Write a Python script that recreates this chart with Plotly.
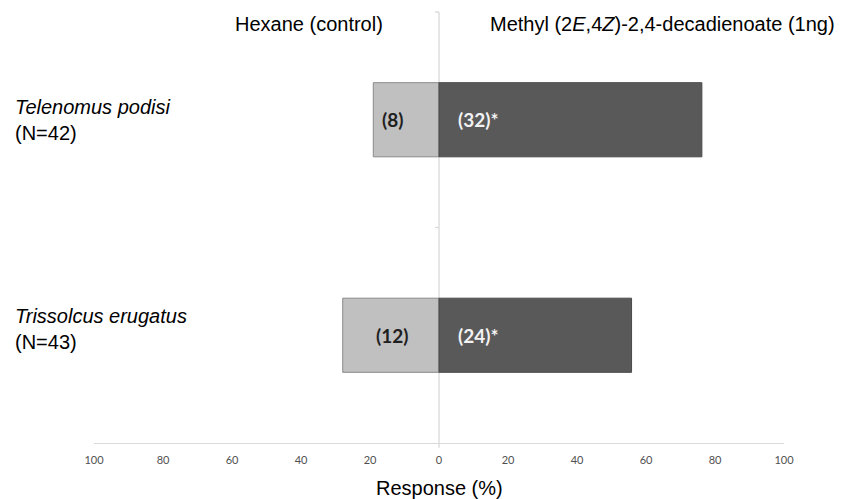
import plotly.graph_objects as go

# Species tested and number of responding wasps per arm
species = ["Telenomus podisi", "Trissolcus erugatus"]
n_total = [42, 43]
hexane_counts = [8, 12]
methyl_counts = [32, 24]
sig_marks = ["*", "*"]

tick_vals = [-100, -80, -60, -40, -20, 0, 20, 40, 60, 80, 100]
tick_text = [str(abs(v)) for v in tick_vals]

hexane_pct = [-c / n * 100 for c, n in zip(hexane_counts, n_total)]
methyl_pct = [c / n * 100 for c, n in zip(methyl_counts, n_total)]

LIGHT = "#c0c0c0"
DARK = "#595959"
EDGE = "#8a8a8a"
AXIS_GREY = "#d9d9d9"

fig = go.Figure()
fig.add_trace(go.Bar(
    y=species, x=hexane_pct, orientation="h", name="Hexane (control)",
    marker=dict(color=LIGHT, line=dict(color=EDGE, width=1)),
    hoverinfo="skip",
))
fig.add_trace(go.Bar(
    y=species, x=methyl_pct, orientation="h",
    name="Methyl (2E,4Z)-2,4-decadienoate (1ng)",
    marker=dict(color=DARK, line=dict(color="#4a4a4a", width=1)),
    hoverinfo="skip",
))

annotations = []
# count labels inside the bars
for sp, hc, mc, s in zip(species, hexane_counts, methyl_counts, sig_marks):
    annotations.append(dict(
        x=-13.6, y=sp, xref="x", yref="y", text=f"<b>({hc})</b>",
        showarrow=False, xanchor="center", yanchor="middle",
        font=dict(family="Lato, Open Sans, sans-serif", size=19, color="#1f1f1f"),
    ))
    annotations.append(dict(
        x=5.0, y=sp, xref="x", yref="y", text=f"<b>({mc}){s}</b>",
        showarrow=False, xanchor="left", yanchor="middle",
        font=dict(family="Lato, Open Sans, sans-serif", size=19, color="#f2f2f2"),
    ))

# species names on the far left
label_shift = [0, 6]
for sp, n, ys in zip(species, n_total, label_shift):
    annotations.append(dict(
        x=0, y=sp, xref="paper", yref="y", xshift=-81, yshift=ys,
        text=f"<i>{sp}</i><br>(N={n})", align="left",
        showarrow=False, xanchor="left", yanchor="middle",
        font=dict(family="Liberation Sans, Arial, sans-serif", size=20, color="#000000"),
    ))

# column headers
annotations.append(dict(
    x=0.3116, y=0.972, xref="paper", yref="paper", text="Hexane (control)",
    showarrow=False, xanchor="center", yanchor="middle",
    font=dict(family="Liberation Sans, Arial, sans-serif", size=20, color="#000000"),
))
annotations.append(dict(
    x=0.571, y=0.972, xref="paper", yref="paper",
    text="Methyl (2<i>E</i>,4<i>Z</i>)-2,4-decadienoate (1ng)",
    showarrow=False, xanchor="left", yanchor="middle",
    font=dict(family="Liberation Sans, Arial, sans-serif", size=20, color="#000000"),
))
# axis title
annotations.append(dict(
    x=0, y=0, xref="x", yref="paper", yshift=-45, text="Response (%)",
    showarrow=False, xanchor="center", yanchor="middle",
    font=dict(family="Liberation Sans, Arial, sans-serif", size=20, color="#000000"),
))

shapes = [
    # vertical zero line
    dict(type="line", xref="x", yref="paper", x0=0, x1=0, y0=-0.011, y1=1,
         line=dict(color=AXIS_GREY, width=1.3), layer="below"),
]
# small category ticks on the zero line
for yp in [0.5, 1.0]:
    shapes.append(dict(
        type="line", xref="x", yref="paper", xsizemode="pixel", xanchor=0,
        x0=-4, x1=0, y0=yp, y1=yp, line=dict(color=AXIS_GREY, width=1.3),
    ))

fig.update_layout(
    width=861, height=499,
    margin=dict(l=94, r=77, t=12, b=56),
    paper_bgcolor="white", plot_bgcolor="white",
    barmode="relative", bargap=0.656,
    showlegend=False,
    annotations=annotations,
    shapes=shapes,
    xaxis=dict(
        range=[-100, 100], tickvals=tick_vals, ticktext=tick_text,
        showgrid=False, zeroline=False, showline=True, linecolor=AXIS_GREY,
        linewidth=1.3, ticks="", ticklabelstandoff=7,
        tickfont=dict(family="Lato, sans-serif", size=11, color="#505050"),
        fixedrange=True,
    ),
    yaxis=dict(
        categoryorder="array", categoryarray=species, autorange="reversed",
        showticklabels=False, showgrid=False, zeroline=False, showline=False,
        ticks="", fixedrange=True,
    ),
)

fig.write_html("out.html")
